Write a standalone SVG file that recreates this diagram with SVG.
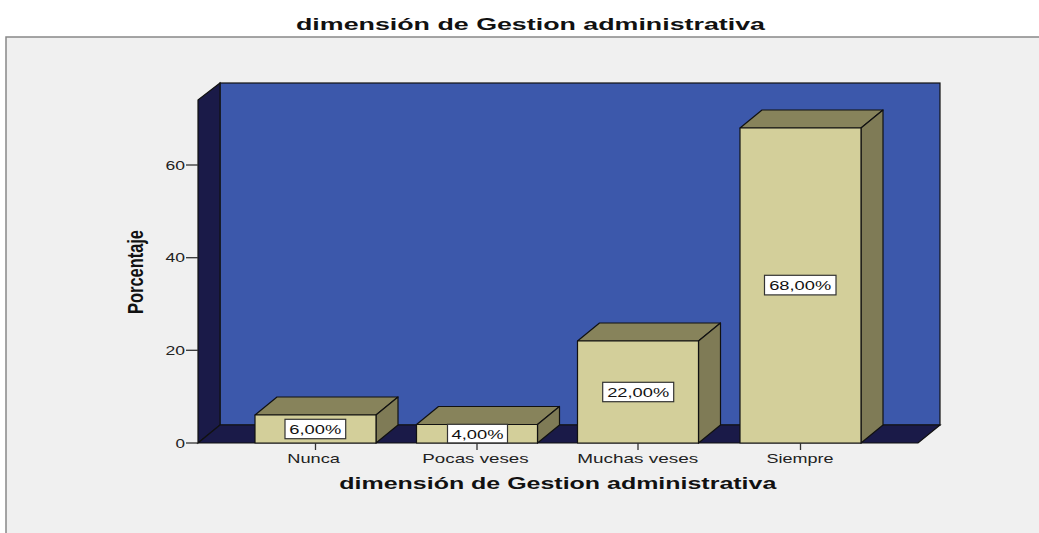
<svg xmlns="http://www.w3.org/2000/svg" width="1039" height="533" viewBox="0 0 1039 533">
<style>
  text { font-family: "Liberation Sans", Arial, sans-serif; fill: #111; }
  .title { font-size: 17px; font-weight: bold; }
  .tick { font-size: 12.5px; fill: #222; }
  .cat { font-size: 13px; fill: #222; }
  .val { font-size: 13px; fill: #111; }
  .ytitle { font-size: 16px; font-weight: bold; }
  .front { fill: #D3CF9A; stroke: #111; stroke-width: 1.2; stroke-linejoin: round; }
  .top { fill: #87835B; stroke: #111; stroke-width: 1.2; stroke-linejoin: round; }
  .side { fill: #7F7B56; stroke: #111; stroke-width: 1.2; stroke-linejoin: round; }
  .box { fill: #FFFFFF; stroke: #333; stroke-width: 1.2; }
  .tk { stroke: #333; stroke-width: 1.3; }
</style>
<rect x="0" y="0" width="1039" height="533" fill="#FFFFFF"/>
<rect x="6" y="37" width="1040" height="510" fill="#F0F0F0" stroke="#888888" stroke-width="1.5"/>
<text class="title" x="530.5" y="30" text-anchor="middle" textLength="469" lengthAdjust="spacingAndGlyphs">dimensión de Gestion administrativa</text>

<g id="chart-frame">
  <rect x="220" y="83" width="720" height="342" fill="#3C58AB" stroke="#111" stroke-width="1.2"/>
  <polygon points="198,100 220,83 220,425 198,443" fill="#1A1A48" stroke="#111" stroke-width="1.2"/>
  <polygon points="198,443 220,425 940,425 918,443" fill="#1A1A48" stroke="#111" stroke-width="1.2"/>
</g>

<g id="y-axis">
  <line class="tk" x1="186" y1="443" x2="198" y2="443"/>
  <line class="tk" x1="186" y1="350.3" x2="198" y2="350.3"/>
  <line class="tk" x1="186" y1="257.7" x2="198" y2="257.7"/>
  <line class="tk" x1="186" y1="165" x2="198" y2="165"/>
  <text class="tick" x="185" y="447.5" text-anchor="end" textLength="9.5" lengthAdjust="spacingAndGlyphs">0</text>
  <text class="tick" x="185" y="354.8" text-anchor="end" textLength="19.5" lengthAdjust="spacingAndGlyphs">20</text>
  <text class="tick" x="185" y="262.2" text-anchor="end" textLength="19.5" lengthAdjust="spacingAndGlyphs">40</text>
  <text class="tick" x="185" y="169.5" text-anchor="end" textLength="19.5" lengthAdjust="spacingAndGlyphs">60</text>
  <text class="ytitle" transform="translate(143,272) scale(1.4,1) rotate(-90)" text-anchor="middle" textLength="84" lengthAdjust="spacingAndGlyphs">Porcentaje</text>
</g>

<g id="bar-nunca">
  <polygon class="top" points="255,415 277,397 398,397 376,415"/>
  <polygon class="side" points="376,415 398,397 398,425 376,443"/>
  <rect class="front" x="255" y="415" width="121" height="28"/>
  <rect class="box" x="285" y="419.3" width="60.7" height="19.4"/>
  <text class="val" x="315.3" y="434" text-anchor="middle" textLength="52" lengthAdjust="spacingAndGlyphs">6,00%</text>
</g>

<g id="bar-pocas">
  <polygon class="top" points="416.5,424.5 438.5,406.5 559.5,406.5 537.5,424.5"/>
  <polygon class="side" points="537.5,424.5 559.5,406.5 559.5,425 537.5,443"/>
  <rect class="front" x="416.5" y="424.5" width="121" height="18.5"/>
  <rect class="box" x="447.5" y="424.3" width="60" height="18.6"/>
  <text class="val" x="477.5" y="438.8" text-anchor="middle" textLength="52" lengthAdjust="spacingAndGlyphs">4,00%</text>
</g>

<g id="bar-muchas">
  <polygon class="top" points="577.5,341 599.5,323 720.5,323 698.5,341"/>
  <polygon class="side" points="698.5,341 720.5,323 720.5,425 698.5,443"/>
  <rect class="front" x="577.5" y="341" width="121" height="102"/>
  <rect class="box" x="602.7" y="382.3" width="71" height="19.4"/>
  <text class="val" x="638.2" y="397" text-anchor="middle" textLength="62" lengthAdjust="spacingAndGlyphs">22,00%</text>
</g>

<g id="bar-siempre">
  <polygon class="top" points="740,128 762,110 883,110 861,128"/>
  <polygon class="side" points="861,128 883,110 883,425 861,443"/>
  <rect class="front" x="740" y="128" width="121" height="315"/>
  <rect class="box" x="764.5" y="275.3" width="71.5" height="19.6"/>
  <text class="val" x="800.2" y="290" text-anchor="middle" textLength="62" lengthAdjust="spacingAndGlyphs">68,00%</text>
</g>

<g id="x-axis">
  <line class="tk" x1="315.5" y1="443" x2="315.5" y2="450"/>
  <line class="tk" x1="477" y1="443" x2="477" y2="450"/>
  <line class="tk" x1="638" y1="443" x2="638" y2="450"/>
  <line class="tk" x1="800.5" y1="443" x2="800.5" y2="450"/>
  <text class="cat" x="313.6" y="462.5" text-anchor="middle" textLength="52.7" lengthAdjust="spacingAndGlyphs">Nunca</text>
  <text class="cat" x="475.5" y="462.5" text-anchor="middle" textLength="106.3" lengthAdjust="spacingAndGlyphs">Pocas veses</text>
  <text class="cat" x="637.8" y="462.5" text-anchor="middle" textLength="121" lengthAdjust="spacingAndGlyphs">Muchas veses</text>
  <text class="cat" x="800" y="462.5" text-anchor="middle" textLength="67" lengthAdjust="spacingAndGlyphs">Siempre</text>
  <text class="title" x="557.8" y="489.3" text-anchor="middle" textLength="437" lengthAdjust="spacingAndGlyphs">dimensión de Gestion administrativa</text>
</g>
</svg>
